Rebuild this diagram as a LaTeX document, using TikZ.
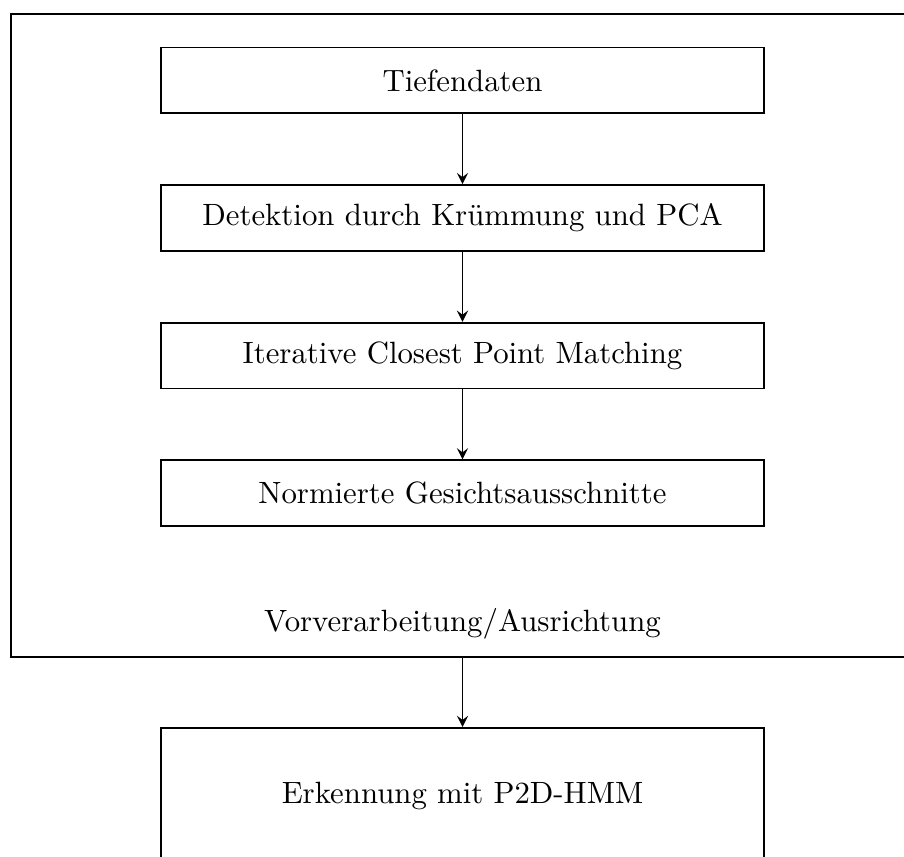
\documentclass[tikz,border=0pt]{standalone}
\usepackage{fontspec}
\usetikzlibrary{positioning,arrows}

\begin{document}
\begin{tikzpicture}[>=stealth, line width=0.6pt, node distance=0.8cm,
  schritt/.style={draw, rectangle, minimum width=6.88cm, minimum height=0.75cm, inner sep=0pt}]
\useasboundingbox (0,0) rectangle (10.32,-9.78);
% Rahmen um die Vorverarbeitung
\node[draw, minimum width=10.31cm, minimum height=7.34cm] (vor) at (5.28,-3.83) {};
\node[anchor=base] (vortext) at ([yshift=0.30cm]vor.south) {Vorverarbeitung/Ausrichtung};
% einzelne Schritte
\node[schritt] (tief) at (5.28,-0.917) {Tiefendaten};
\node[schritt, below=of tief] (det) {Detektion durch Krümmung und PCA};
\node[schritt, below=of det] (icp) {Iterative Closest Point Matching};
\node[schritt, below=of icp] (norm) {Normierte Gesichtsausschnitte};
\node[draw, minimum width=6.88cm, minimum height=1.55cm] (erk) at (5.28,-9.085) {Erkennung mit P2D-HMM};
\draw[->] (tief) -- (det);
\draw[->] (det) -- (icp);
\draw[->] (icp) -- (norm);
\draw[->] (vor) -- (erk);
\end{tikzpicture}
\end{document}
